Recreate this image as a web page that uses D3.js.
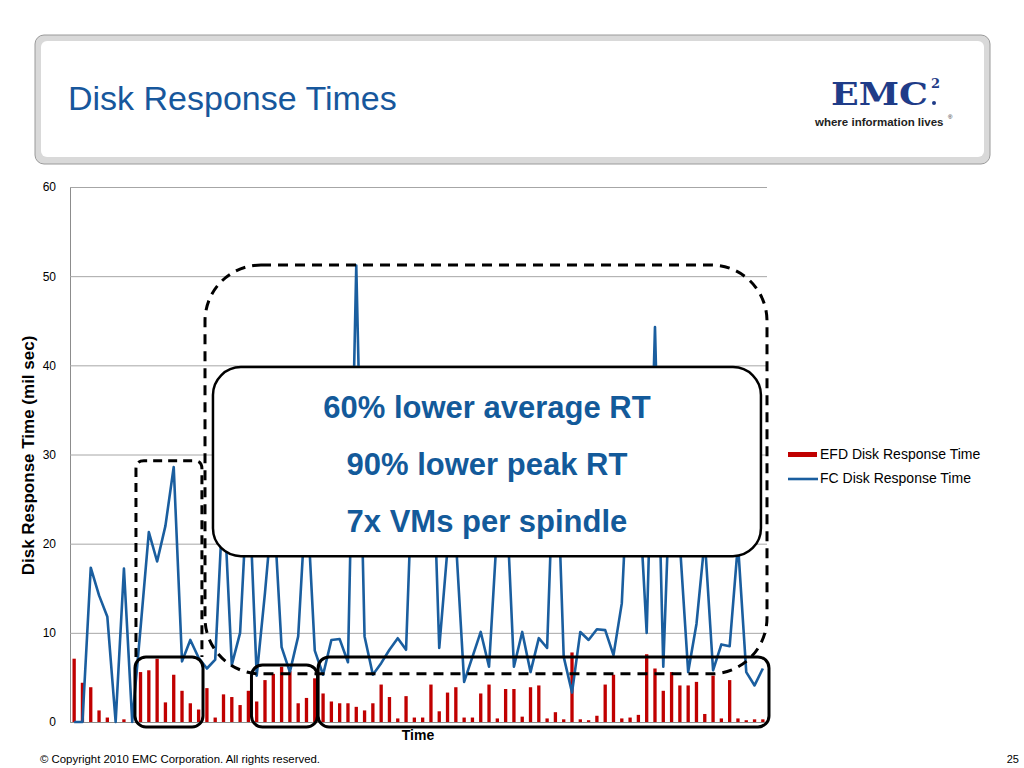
<!DOCTYPE html>
<html>
<head>
<meta charset="utf-8">
<script src="https://cdn.jsdelivr.net/npm/d3@7"></script>
<style>
  body { margin: 0; background: #fff; }
  svg { display: block; font-family: "Liberation Sans", Arial, Helvetica, sans-serif; }
</style>
</head>
<body>
<svg id="chart" width="1024" height="768"></svg>
<script>
// EFD disk response time per sample (ms)
const efd = [
  7.1, 4.4, 3.9, 1.3, 0.5, 0, 0.3, 0, 5.6, 5.8,
  7.1, 2.2, 5.3, 3.5, 2.1, 1.4, 3.8, 0.5, 3.1, 2.8,
  1.9, 3.5, 2.3, 4.7, 5.4, 6.2, 5.7, 2.1, 2.7, 4.9,
  3.2, 2.3, 2.1, 2.1, 1.7, 1.3, 2.1, 4.2, 2.8, 0.4,
  2.9, 0.5, 0.5, 4.2, 1.2, 3.3, 3.9, 0.5, 0.5, 3.2,
  4.2, 0.4, 3.7, 3.7, 0.6, 3.9, 4.1, 0.4, 1.1, 0.3,
  7.8, 0.3, 0.2, 0.7, 4.2, 5.3, 0.4, 0.5, 0.8, 7.6,
  6.0, 3.5, 5.6, 4.1, 4.1, 4.5, 0.9, 5.2, 0.4, 4.7,
  0.4, 0.2, 0.3, 0.3
];

// FC disk response time per sample (ms)
const fc = [
  0, 0, 17.3, 14.2, 11.8, 0, 17.2, 0, 10.5, 21.3,
  18.0, 22.0, 28.6, 6.8, 9.2, 7.2, 6.0, 7.0, 26, 6.4,
  10, 28, 5.2, 14.5, 25, 8.4, 5.6, 9.6, 26, 8.0,
  5.3, 9.2, 9.3, 6.7, 51.2, 9.6, 5.3, 6.6, 8.1, 9.4,
  8.1, 34, 25, 37, 8.3, 19.5, 20.5, 4.5, 7.3, 10.1,
  6.2, 22, 27, 6.2, 10.1, 5.6, 9.4, 8.3, 35, 7.3,
  3.3, 10.1, 9.2, 10.4, 10.3, 7.5, 13.3, 33, 27, 10.0,
  44.3, 6.2, 32, 20, 5.6, 11, 20.5, 5.8, 8.7, 8.5,
  20, 5.6, 4.1, 6.0
];

const samples = efd.map((d, i) => i + 1);
const yTicks = [0, 10, 20, 30, 40, 50, 60];
const seriesNames = ["EFD Disk Response Time", "FC Disk Response Time"];
const calloutLines = ["60% lower average RT", "90% lower peak RT", "7x VMs per spindle"];

const red = "#c00000";
const blue = "#1a5e9f";
const textBlue = "#135a9a";
const navy = "#1f3c88";

const svg = d3.select("#chart");

// header panel
svg.append("rect")
  .attr("x", 35).attr("y", 35).attr("width", 955).attr("height", 129)
  .attr("rx", 9)
  .attr("fill", "#d9d9d9").attr("stroke", "#9a9a9a").attr("stroke-width", 1);

svg.append("rect")
  .attr("x", 41).attr("y", 41).attr("width", 943).attr("height", 116)
  .attr("rx", 6)
  .attr("fill", "#fff");

svg.append("text")
  .text("Disk Response Times")
  .attr("x", 68).attr("y", 110)
  .attr("font-size", 34)
  .attr("fill", "#17579c");

// logo
svg.append("text")
  .text("EMC")
  .attr("x", 831).attr("y", 105)
  .attr("font-family", "'DejaVu Serif', 'Liberation Serif', serif")
  .attr("font-weight", 700)
  .attr("font-size", 32)
  .attr("textLength", 97)
  .attr("lengthAdjust", "spacingAndGlyphs")
  .attr("fill", navy);

svg.append("text")
  .text("2")
  .attr("x", 931).attr("y", 88)
  .attr("font-family", "'DejaVu Serif', 'Liberation Serif', serif")
  .attr("font-weight", 700)
  .attr("font-size", 13)
  .attr("fill", navy);

svg.append("circle")
  .attr("cx", 934).attr("cy", 103).attr("r", 2)
  .attr("fill", navy);

svg.append("text")
  .text("where information lives")
  .attr("x", 815).attr("y", 126)
  .attr("font-size", 11.5)
  .attr("font-weight", 700)
  .attr("fill", "#222");

svg.append("text")
  .text("®")
  .attr("x", 948).attr("y", 119)
  .attr("font-size", 6)
  .attr("fill", "#222");

// chart area
const plotLeft = 70, plotRight = 767, plotTop = 187, plotBottom = 722;

const x = d3.scaleBand()
  .domain(samples)
  .range([plotLeft, plotRight])
  .paddingInner(0.6)
  .paddingOuter(0.3);

// continuous position along the category axis, for the annotation shapes
const pos = d3.scaleLinear().domain([0, samples.length]).range([plotLeft, plotRight]);

const y = d3.scaleLinear().domain([0, 60]).range([plotBottom, plotTop]);

// y axis + gridlines
const yAxis = svg.append("g")
  .attr("transform", `translate(${plotLeft},0)`)
  .call(d3.axisLeft(y).tickValues(yTicks).tickSize(-(plotRight - plotLeft)).tickPadding(14));

yAxis.select(".domain").attr("stroke", "#8c8c8c");
yAxis.selectAll(".tick line").attr("stroke", "#a6a6a6");
yAxis.selectAll(".tick text")
  .attr("font-size", 12)
  .attr("font-family", "'Liberation Sans', Arial, sans-serif")
  .attr("fill", "#000");

svg.append("g")
  .attr("transform", `translate(0,${plotBottom})`)
  .call(d3.axisBottom(x).tickValues([]).tickSizeOuter(0))
  .select(".domain").attr("stroke", "#8c8c8c");

// EFD bars
svg.append("g")
  .selectAll("rect")
  .data(efd)
  .join("rect")
  .attr("x", (d, i) => x(samples[i]))
  .attr("y", d => y(d))
  .attr("width", x.bandwidth())
  .attr("height", d => y(0) - y(d))
  .attr("fill", red);

// FC line
const line = d3.line()
  .x((d, i) => x(samples[i]) + x.bandwidth() / 2)
  .y(d => y(d));

svg.append("path")
  .datum(fc)
  .attr("d", line)
  .attr("fill", "none")
  .attr("stroke", blue)
  .attr("stroke-width", 2.6)
  .attr("stroke-linejoin", "round");

// axis titles
svg.append("text")
  .text("Disk Response Time (mil sec)")
  .attr("transform", `translate(34,${(plotTop + plotBottom) / 2 + 1}) rotate(-90)`)
  .attr("text-anchor", "middle")
  .attr("font-size", 17)
  .attr("font-weight", 700);

svg.append("text")
  .text("Time")
  .attr("x", 418).attr("y", 740)
  .attr("text-anchor", "middle")
  .attr("font-size", 14)
  .attr("font-weight", 700);

// dashed highlight regions
svg.append("path")
  .attr("d", () => {
    const x0 = pos(7.95), x1 = pos(15.9), y0 = y(29.3), y1 = y(7.3), r = 8;
    return `M${x0},${y1} V${y0 + r} Q${x0},${y0} ${x0 + r},${y0} H${x1 - r} Q${x1},${y0} ${x1},${y0 + r} V${y1}`;
  })
  .attr("fill", "none")
  .attr("stroke", "#000")
  .attr("stroke-width", 3)
  .attr("stroke-dasharray", "9,6");

svg.append("rect")
  .attr("x", pos(16.27)).attr("y", y(51.25))
  .attr("width", pos(84.0) - pos(16.27))
  .attr("height", y(5.4) - y(51.25))
  .attr("rx", 56)
  .attr("fill", "none")
  .attr("stroke", "#000")
  .attr("stroke-width", 3)
  .attr("stroke-dasharray", "10,7");

// solid highlight boxes round the EFD bars
const boxes = [
  { from: 7.83, to: 16.03, top: 7.3 },
  { from: 21.87, to: 29.83, top: 6.4 },
  { from: 29.9, to: 84.24, top: 7.3 }
];

svg.append("g")
  .selectAll("rect")
  .data(boxes)
  .join("rect")
  .attr("x", d => pos(d.from))
  .attr("y", d => y(d.top))
  .attr("width", d => pos(d.to) - pos(d.from))
  .attr("height", d => y(-0.56) - y(d.top))
  .attr("rx", 11)
  .attr("fill", "none")
  .attr("stroke", "#000")
  .attr("stroke-width", 3);

// callout
const cx0 = pos(17.23), cx1 = pos(83.27), cy0 = y(39.8), cy1 = y(18.6);

svg.append("rect")
  .attr("x", cx0).attr("y", cy0)
  .attr("width", cx1 - cx0).attr("height", cy1 - cy0)
  .attr("rx", 28)
  .attr("fill", "#fff")
  .attr("stroke", "#000")
  .attr("stroke-width", 2.5);

svg.append("g")
  .selectAll("text")
  .data(calloutLines)
  .join("text")
  .text(d => d)
  .attr("x", (cx0 + cx1) / 2)
  .attr("y", (d, i) => cy0 + 51 + i * 56.7)
  .attr("text-anchor", "middle")
  .attr("font-size", 31)
  .attr("font-weight", 700)
  .attr("fill", textBlue);

// legend
const legend = svg.append("g").attr("transform", "translate(788,0)");

legend.append("rect")
  .attr("x", 0).attr("y", 452).attr("width", 29).attr("height", 5)
  .attr("fill", red);
legend.append("line")
  .attr("x1", 0).attr("x2", 30).attr("y1", 479).attr("y2", 479)
  .attr("stroke", blue).attr("stroke-width", 2.6);

legend.selectAll("text.lg")
  .data(seriesNames)
  .join("text")
  .attr("class", "lg")
  .text(d => d)
  .attr("x", 32)
  .attr("y", (d, i) => 459 + i * 24)
  .attr("font-size", 14)
  .attr("fill", "#000");

// footer
svg.append("text")
  .text("© Copyright 2010 EMC Corporation. All rights reserved.")
  .attr("x", 40).attr("y", 763)
  .attr("font-size", 11.4);

svg.append("text")
  .text("25")
  .attr("x", 1019).attr("y", 763)
  .attr("text-anchor", "end")
  .attr("font-size", 11);
</script>
</body>
</html>
